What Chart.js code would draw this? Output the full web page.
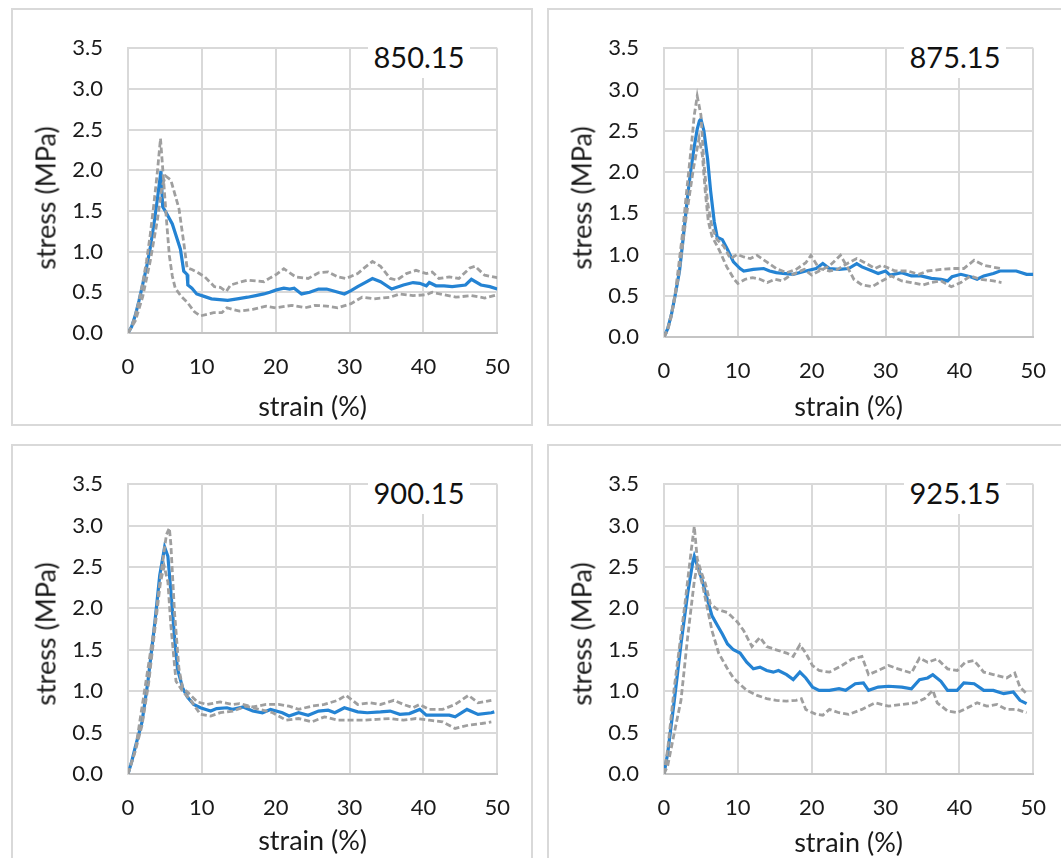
<!DOCTYPE html>
<html>
<head>
<meta charset="utf-8">
<script src="https://cdn.jsdelivr.net/npm/chart.js@4.4.1/dist/chart.umd.min.js"></script>
<style>
    body { margin: 0; background: #fff; width: 1061px; height: 858px; overflow: hidden; position: relative; font-family: Lato, sans-serif; }
    .panel { position: absolute; width: 522px; height: 418px; border: 2px solid #d9d9d9; box-sizing: border-box; }
    .panel canvas { position: absolute; left: 0; top: 0; }
    .ytitle { position: absolute; left: 32px; top: 188px; transform: translate(-50%, -50%) rotate(-90deg); white-space: nowrap; font-size: 27px; color: #1a1a1a; }
    .tag { position: absolute; left: 355px; top: 26px; width: 102px; height: 42px; line-height: 42px; text-align: center; background: #fff; font-size: 29px; color: #111; }
</style>
</head>
<body>
<div class="panel" style="left:11px;top:8px;"><canvas id="c850" width="518" height="414"></canvas><div class="ytitle">stress (MPa)</div><div class="tag">850.15</div></div>
<div class="panel" style="left:547px;top:8px;"><canvas id="c875" width="518" height="414"></canvas><div class="ytitle">stress (MPa)</div><div class="tag">875.15</div></div>
<div class="panel" style="left:11px;top:444px;"><canvas id="c900" width="518" height="414"></canvas><div class="ytitle">stress (MPa)</div><div class="tag">900.15</div></div>
<div class="panel" style="left:547px;top:444px;"><canvas id="c925" width="518" height="414"></canvas><div class="ytitle">stress (MPa)</div><div class="tag">925.15</div></div>
<script>
// [strain %, stress MPa]; m = mean curve, a/b = the two dashed specimen curves
const m850 = [[0,0],[0.5,0.08],[1,0.22],[1.5,0.4],[2,0.6],[2.5,0.8],[3,1.04],[3.5,1.33],[4,1.66],[4.46,1.99],[4.7,1.55],[5.1,1.49],[6,1.34],[7.1,1.03],[7.55,0.76],[8,0.72],[8.1,0.59],[8.65,0.55],[9.3,0.48],[10.3,0.45],[11.3,0.42],[12.4,0.41],[13.5,0.4],[14.8,0.42],[16.2,0.44],[17.3,0.46],[18.4,0.48],[19.2,0.5],[20.1,0.53],[21.1,0.55],[21.9,0.54],[22.5,0.55],[23.5,0.48],[24.6,0.5],[25.8,0.54],[26.9,0.54],[28.1,0.51],[29.3,0.48],[30.2,0.52],[31.1,0.57],[32.1,0.62],[33.1,0.67],[34.2,0.63],[35.7,0.54],[37.3,0.59],[38.6,0.62],[39.5,0.61],[40.4,0.58],[40.8,0.62],[41.7,0.58],[42.8,0.58],[43.9,0.57],[45.7,0.59],[46.5,0.66],[47.8,0.59],[49,0.57],[50,0.54]];
const a850 = [[0,0],[0.5,0.08],[1,0.22],[1.5,0.4],[2,0.62],[2.5,0.88],[3,1.2],[3.5,1.58],[4,2.0],[4.4,2.39],[4.8,1.9],[5.2,1.4],[5.6,0.95],[6,0.7],[6.4,0.55],[7.2,0.45],[8,0.38],[9,0.26],[9.8,0.21],[10.7,0.23],[11.6,0.25],[12.7,0.25],[13.4,0.31],[14.2,0.29],[15.1,0.27],[16.9,0.29],[18.7,0.33],[20,0.31],[22.2,0.34],[24,0.31],[25.3,0.34],[26.9,0.33],[28.4,0.31],[30.2,0.36],[31.7,0.44],[33.3,0.42],[35.5,0.44],[36.8,0.48],[38.6,0.46],[40.4,0.47],[41.2,0.5],[42.8,0.47],[44.4,0.44],[46.5,0.46],[48.3,0.43],[50,0.47]];
const b850 = [[0,0],[1,0.15],[2,0.45],[3,0.88],[4,1.4],[4.6,1.8],[5.1,1.93],[5.8,1.88],[6.9,1.53],[7.55,1.11],[8,0.8],[8.65,0.78],[9.5,0.74],[10.4,0.69],[11.7,0.57],[12.5,0.56],[13.3,0.51],[13.9,0.59],[15,0.62],[16.2,0.65],[17.3,0.64],[18.4,0.63],[19.3,0.68],[20.1,0.72],[21.1,0.79],[22.7,0.69],[24.4,0.67],[25.8,0.74],[27.1,0.75],[28.4,0.69],[29.5,0.67],[31.1,0.73],[32,0.8],[33.1,0.88],[34.2,0.82],[35.5,0.67],[36.4,0.65],[37.7,0.73],[39,0.77],[40.4,0.73],[41.2,0.75],[42.1,0.67],[43.5,0.69],[44.8,0.67],[46.3,0.8],[47,0.82],[48.3,0.71],[50,0.68]];

const m875 = [[0,0],[0.5,0.1],[1,0.27],[1.5,0.5],[2.1,0.8],[2.6,1.2],[3.2,1.71],[3.6,2.0],[4.1,2.31],[4.5,2.52],[4.8,2.62],[5,2.64],[5.4,2.5],[5.9,2.16],[6.3,1.78],[6.8,1.4],[7.2,1.21],[7.9,1.18],[8.6,1.06],[9.4,0.91],[10.3,0.83],[10.8,0.8],[12.1,0.82],[13.5,0.83],[14.3,0.8],[15.2,0.78],[16.1,0.77],[17.5,0.76],[19.2,0.8],[20.6,0.83],[21.5,0.89],[22.4,0.83],[23.7,0.82],[25,0.83],[26.1,0.89],[26.8,0.85],[28.2,0.8],[29,0.77],[30,0.8],[30.6,0.75],[32.2,0.78],[33.5,0.74],[34.8,0.74],[36.2,0.71],[37.5,0.7],[38.4,0.68],[39,0.73],[40.2,0.76],[41.5,0.73],[42.4,0.7],[43.3,0.74],[44.6,0.77],[45.5,0.8],[47.7,0.8],[49.1,0.76],[50,0.76]];
const a875 = [[0,0],[0.5,0.1],[1,0.28],[1.5,0.52],[1.9,0.8],[2.5,1.25],[3,1.71],[3.7,2.31],[4.1,2.69],[4.5,2.92],[5,2.69],[5.4,2.12],[5.9,1.63],[6.5,1.33],[7.2,1.18],[8.1,1.1],[9,0.95],[9.9,1.0],[10.8,0.97],[11.7,0.95],[12.6,0.99],[13.9,0.91],[15.2,0.83],[16.6,0.78],[17.9,0.82],[19.2,0.9],[19.9,0.99],[21,0.83],[22.4,0.8],[23.5,0.82],[25,0.9],[26.1,0.95],[27,0.91],[28.6,0.83],[29.5,0.87],[31.3,0.8],[33,0.8],[34.5,0.76],[35.7,0.8],[37.5,0.82],[39.3,0.83],[40.6,0.83],[42,0.93],[43.3,0.87],[45.5,0.83]];
const b875 = [[0,0],[0.5,0.08],[1,0.25],[2,0.75],[3,1.45],[4,2.05],[4.75,2.41],[5.2,2.2],[5.6,1.75],[6,1.4],[6.5,1.22],[7.5,1.05],[8.5,0.85],[9.5,0.7],[10,0.65],[11,0.7],[12,0.72],[13,0.7],[14,0.66],[15,0.7],[16,0.68],[17,0.74],[18,0.78],[19,0.82],[20,0.75],[21,0.8],[22.4,0.86],[23.9,0.99],[25,0.82],[25.7,0.7],[26.8,0.63],[28.2,0.61],[29.5,0.68],[30.8,0.74],[32.2,0.68],[33.5,0.66],[35.1,0.63],[36.2,0.66],[37.5,0.68],[38.9,0.61],[40.2,0.66],[41.5,0.74],[42.8,0.7],[44.6,0.68],[45.7,0.66]];

const m900 = [[0,0],[0.5,0.15],[1,0.33],[1.9,0.63],[2.7,1.12],[3.6,1.8],[4.3,2.4],[4.96,2.74],[5.4,2.63],[5.8,2.21],[6.3,1.65],[6.7,1.27],[7.4,1.04],[8.05,0.93],[8.9,0.84],[9.8,0.8],[11.2,0.76],[12,0.79],[13.4,0.8],[14.2,0.78],[15.6,0.81],[16.9,0.76],[18.2,0.74],[19.3,0.78],[20.9,0.74],[21.8,0.7],[23.1,0.74],[24.4,0.71],[25.8,0.76],[27.1,0.77],[28,0.74],[29.3,0.8],[31.1,0.75],[32.4,0.74],[34.2,0.75],[35.5,0.76],[36.8,0.72],[38.1,0.73],[39.5,0.78],[40.4,0.71],[41.7,0.71],[43.5,0.71],[44.3,0.69],[45.9,0.78],[47.4,0.72],[49.2,0.74],[49.6,0.75]];
const a900 = [[0,0],[1,0.29],[2.3,1.04],[3.6,1.8],[4.5,2.44],[5.2,2.89],[5.6,2.97],[5.8,2.78],[6.3,1.95],[6.9,1.27],[7.4,1.04],[8.05,0.99],[9.4,0.87],[10.7,0.84],[12.5,0.87],[14.2,0.84],[15.1,0.85],[16.9,0.81],[18.7,0.84],[20.4,0.84],[21.8,0.82],[23.1,0.78],[24.9,0.82],[26.6,0.84],[28.4,0.89],[29.5,0.95],[31.1,0.84],[32.8,0.86],[34.2,0.84],[36,0.89],[37.3,0.84],[38.6,0.8],[39.5,0.84],[40.8,0.78],[42.6,0.78],[44.3,0.84],[46.1,0.95],[47.4,0.86],[49.2,0.89]];
const b900 = [[0,0],[1,0.28],[1.9,0.59],[2.8,1.1],[3.6,1.72],[4.4,2.32],[4.9,2.51],[5.4,2.32],[5.8,1.8],[6.5,1.12],[7.4,1.0],[8.5,0.89],[9.8,0.72],[11.2,0.7],[12.5,0.74],[14.2,0.76],[16,0.82],[17.8,0.78],[19.6,0.74],[21.4,0.65],[23.1,0.67],[24.9,0.63],[26.6,0.69],[28.4,0.65],[30.2,0.65],[31.9,0.65],[33.7,0.66],[35.5,0.67],[37.3,0.65],[39,0.67],[40.8,0.65],[42.6,0.63],[44.3,0.55],[46.1,0.59],[47.9,0.61],[49.2,0.63]];

const m925 = [[0,0],[0.5,0.25],[1.4,0.89],[2.3,1.57],[3.2,2.18],[3.9,2.56],[4.1,2.63],[4.5,2.52],[5.2,2.33],[5.9,2.1],[6.5,1.91],[7.2,1.8],[7.9,1.69],[8.6,1.57],[9.4,1.5],[10.3,1.46],[11.2,1.35],[12.1,1.27],[13,1.29],[13.9,1.25],[14.8,1.23],[15.5,1.25],[16.6,1.2],[17.5,1.14],[18.4,1.23],[19.2,1.16],[20.1,1.05],[21,1.01],[22.4,1.01],[23.7,1.03],[24.6,1.01],[25.9,1.09],[27,1.1],[27.7,1.01],[29,1.05],[30.4,1.06],[32.2,1.05],[33.5,1.03],[34.6,1.14],[35.7,1.16],[36.4,1.2],[37.5,1.12],[38.4,1.01],[39.7,1.01],[40.6,1.1],[42,1.09],[43.3,1.01],[44.6,1.01],[46,0.97],[47.3,0.99],[48.2,0.89],[49.1,0.85]];
const a925 = [[0,0],[0.5,0.3],[1.4,1.05],[2.8,2.03],[3.7,2.71],[4.1,2.99],[4.5,2.6],[5,2.45],[5.6,2.3],[6.3,2.05],[7.2,1.99],[8.6,1.95],[9.9,1.84],[10.8,1.73],[11.9,1.54],[13,1.65],[13.9,1.54],[15.2,1.5],[16.6,1.46],[17.5,1.42],[18.4,1.56],[19.2,1.46],[20.1,1.31],[21,1.25],[22.4,1.23],[24.1,1.31],[25.5,1.39],[26.8,1.42],[27.7,1.2],[29,1.25],[30.4,1.31],[31.7,1.27],[33.5,1.22],[34.6,1.4],[35.7,1.35],[37,1.39],[38.4,1.27],[39.7,1.25],[40.8,1.35],[42,1.37],[43.3,1.23],[44.6,1.2],[46.4,1.16],[47.5,1.22],[48.2,1.05],[49.1,0.97]];
const b925 = [[0,0],[0.5,0.1],[1.4,0.5],[2.3,0.89],[3.2,1.65],[4.1,2.33],[4.5,2.52],[5.2,2.29],[5.9,1.99],[6.5,1.73],[7.4,1.46],[8.6,1.27],[9.4,1.16],[10.1,1.1],[11.2,1.01],[12.6,0.95],[13.9,0.91],[15.2,0.89],[16.6,0.88],[17.9,0.89],[18.6,0.91],[19.2,0.78],[20.6,0.72],[21.5,0.71],[22.4,0.78],[23.7,0.74],[25,0.72],[26.8,0.78],[28.6,0.86],[30.4,0.82],[32.2,0.84],[34,0.86],[35.3,0.91],[36.4,1.01],[37,0.86],[38.4,0.76],[39.7,0.74],[41.1,0.8],[42.4,0.86],[43.7,0.82],[45.1,0.84],[46.4,0.78],[47.8,0.78],[49.1,0.74]];

const strainTicks = [0, 10, 20, 30, 40, 50];
const stressTicks = [0, 0.5, 1.0, 1.5, 2.0, 2.5, 3.0, 3.5];

Chart.defaults.font.family = 'Lato, sans-serif';

const toPts = (arr) => arr.map(p => ({ x: p[0], y: p[1] }));

function dashed(arr) {
    return { data: toPts(arr), borderColor: '#9f9f9f', borderWidth: 2.8, borderDash: [6, 3], pointRadius: 0, tension: 0 };
}

function drawPanel(id, mean, a, b, geo) {
    new Chart(document.getElementById(id), {
        type: 'line',
        data: {
            datasets: [dashed(a), dashed(b), {
                data: toPts(mean),
                borderColor: '#2483d3',
                borderWidth: 3.2,
                pointRadius: 0,
                tension: 0
            }]
        },
        options: {
            responsive: false,
            animation: false,
            devicePixelRatio: 1,
            layout: { padding: { top: geo.top, right: geo.right, left: 0, bottom: 0 } },
            plugins: { legend: { display: false }, tooltip: { enabled: false } },
            scales: {
                x: {
                    type: 'linear',
                    min: 0,
                    max: 50,
                    afterBuildTicks: (s) => { s.ticks = strainTicks.map(v => ({ value: v })); },
                    afterFit: (s) => { s.height = geo.xh; },
                    ticks: { padding: 21, color: '#1a1a1a', font: { size: 22 } },
                    grid: { color: '#d9d9d9', lineWidth: 2, drawTicks: false },
                    border: { color: '#c4c4c4', width: 2 },
                    title: { display: true, text: 'strain (%)', color: '#1a1a1a', font: { size: 27 }, padding: { top: 0, bottom: geo.tb } }
                },
                y: {
                    min: 0,
                    max: 3.5,
                    afterBuildTicks: (s) => { s.ticks = stressTicks.map(v => ({ value: v })); },
                    afterFit: (s) => { s.width = 115; },
                    ticks: { padding: 25, color: '#1a1a1a', font: { size: 22 }, callback: (v) => v.toFixed(1) },
                    grid: { color: '#d9d9d9', lineWidth: 2, drawTicks: false },
                    border: { color: '#d9d9d9', width: 2 }
                }
            }
        }
    });
}

drawPanel('c850', m850, a850, b850, { top: 19, right: 26, xh: 91, tb: 1 });
drawPanel('c875', m875, a875, b875, { top: 19, right: 25, xh: 87, tb: 1 });
drawPanel('c900', m900, a900, b900, { top: 18, right: 26, xh: 86, tb: 3 });
drawPanel('c925', m925, a925, b925, { top: 19, right: 25, xh: 86, tb: 1 });
</script>
</body>
</html>
